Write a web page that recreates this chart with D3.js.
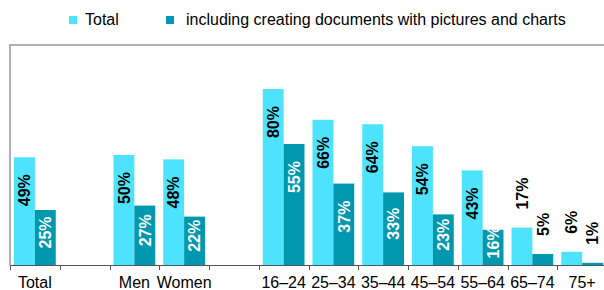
<!DOCTYPE html>
<html>
<head>
<meta charset="utf-8">
<script src="https://cdn.jsdelivr.net/npm/d3@7"></script>
<style>
  body { margin: 0; background: #fff; }
  svg { display: block; font-family: "Liberation Sans", Arial, sans-serif; }
</style>
</head>
<body>
<svg id="viz" width="604" height="290"></svg>
<script>
// category slots, "" = empty gap between groups
const categories = ["Total", "", "Men", "Women", "", "16–24", "25–34", "35–44", "45–54", "55–64", "65–74", "75+"];
const totalValues = [49, null, 50, 48, null, 80, 66, 64, 54, 43, 17, 6];
const docValues = [25, null, 27, 22, null, 55, 37, 33, 23, 16, 5, 1];
const seriesNames = ["Total", "including creating documents with pictures and charts"];
const labelsAbove = ["65–74", "75+"];

const lightColor = "#4de3fc";
const darkColor = "#0098af";

let svg = d3.select("#viz");
let chartW = 604;
let plotLeft = 10, plotTop = 45, plotBottom = 265;

let x = d3.scaleBand()
  .domain(d3.range(categories.length))
  .range([plotLeft, plotLeft + 49.75 * categories.length])
  .padding(0);

let y = d3.scaleLinear().domain([0, 100]).range([plotBottom, plotTop]);

let bw = x.bandwidth();
let barW = (bw - 8) / 2;

// frame: top and left border
svg.append("path")
  .attr("d", "M" + plotLeft + "," + plotBottom + "V" + plotTop + "H" + chartW)
  .attr("fill", "none")
  .attr("stroke", "#b0b0b0")
  .attr("stroke-width", 2);

let rows = categories.map(function (c, i) {
  return {cat: c, i: i, total: totalValues[i], doc: docValues[i]};
});

let bars = [];
rows.forEach(function (r) {
  if (r.total == null) return;
  bars.push({cat: r.cat, i: r.i, v: r.total, s: 0});
  bars.push({cat: r.cat, i: r.i, v: r.doc, s: 1});
});

svg.append("g").selectAll("rect")
  .data(bars)
  .enter()
  .append("rect")
  .attr("x", function (d) { return x(d.i) + 4 + d.s * barW; })
  .attr("y", function (d) { return y(d.v); })
  .attr("width", barW)
  .attr("height", function (d) { return plotBottom - y(d.v); })
  .attr("fill", function (d) { return d.s === 0 ? lightColor : darkColor; });

// x axis with ticks at band edges
let axis = svg.append("g");
axis.append("line")
  .attr("x1", plotLeft).attr("x2", chartW)
  .attr("y1", plotBottom + 0.5).attr("y2", plotBottom + 0.5)
  .attr("stroke", "#555");
axis.selectAll("line.tick")
  .data(d3.range(categories.length + 1))
  .enter()
  .append("line")
  .attr("class", "tick")
  .attr("x1", function (d) { return Math.round(plotLeft + d * bw) + 0.5; })
  .attr("x2", function (d) { return Math.round(plotLeft + d * bw) + 0.5; })
  .attr("y1", plotBottom).attr("y2", plotBottom + 5)
  .attr("stroke", "#555");

axis.selectAll("text")
  .data(rows.filter(function (r) { return r.cat !== ""; }))
  .enter()
  .append("text")
  .attr("x", function (d) { return x(d.i) + bw / 2; })
  .attr("y", 288)
  .attr("text-anchor", "middle")
  .attr("font-size", 16)
  .attr("fill", "#000")
  .text(function (d) { return d.cat; });

// value labels
let labels = svg.append("g").selectAll("text")
  .data(bars)
  .enter()
  .append("text")
  .attr("font-size", 16)
  .attr("font-weight", "bold")
  .attr("dy", "0.36em")
  .text(function (d) { return d.v + "%"; });

labels.each(function (d) {
  let t = d3.select(this);
  let len = this.getComputedTextLength();
  let cx = x(d.i) + 4 + d.s * barW + barW / 2;
  let barTop = y(d.v);
  let h = plotBottom - barTop;
  if (labelsAbove.includes(d.cat)) {
    let yb = Math.min(barTop - 18, plotBottom - 18);
    t.attr("text-anchor", "start")
      .attr("fill", "#000")
      .attr("transform", "translate(" + cx + "," + yb + ") rotate(-90)");
  } else {
    let off = Math.min(17, (h - len) / 2 - 5);
    t.attr("text-anchor", "end")
      .attr("fill", d.s === 0 ? "#000" : "#fff")
      .attr("transform", "translate(" + cx + "," + (barTop + off) + ") rotate(-90)");
  }
});

// legend
let legendX = [69, 166];
let legendTextX = [85, 186];
let legend = svg.append("g").selectAll("g")
  .data(seriesNames)
  .enter()
  .append("g");
legend.append("rect")
  .attr("x", function (d, i) { return legendX[i]; })
  .attr("y", 16)
  .attr("width", 8).attr("height", 8)
  .attr("fill", function (d, i) { return i === 0 ? lightColor : darkColor; });
legend.append("text")
  .attr("x", function (d, i) { return legendTextX[i]; })
  .attr("y", 25)
  .attr("font-size", 16)
  .attr("fill", "#000")
  .text(function (d) { return d; });
</script>
</body>
</html>
